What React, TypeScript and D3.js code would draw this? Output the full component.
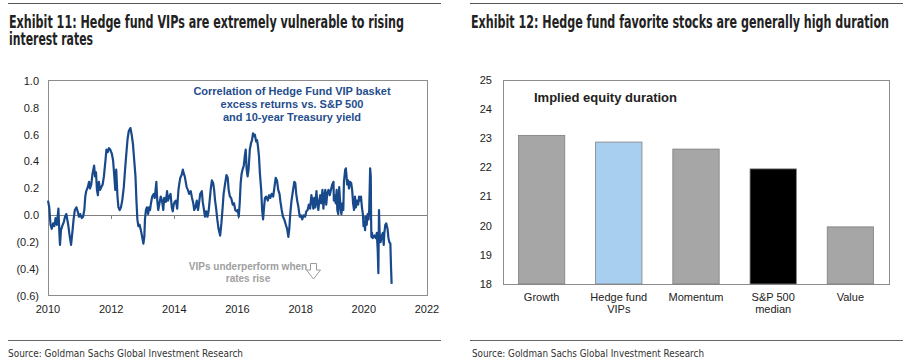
import React from 'react'
import { scaleLinear, scaleBand, line } from 'd3'

const W = 912
const H = 363

// Exhibit 11: correlation series [decimal year, value]
const corrSeries: [number, number][] = [
  [2010.00, 0.11], [2010.04, 0.06], [2010.08, -0.07], [2010.12, -0.10], [2010.16, -0.06], [2010.20, -0.08],
  [2010.24, -0.02], [2010.28, -0.07], [2010.33, 0.05], [2010.36, -0.13], [2010.38, -0.22], [2010.41, -0.11],
  [2010.45, -0.08], [2010.50, -0.05], [2010.54, -0.01], [2010.58, 0.01], [2010.61, -0.03], [2010.64, -0.07],
  [2010.69, -0.16], [2010.73, -0.22], [2010.77, -0.13], [2010.81, -0.03], [2010.85, 0.04], [2010.90, 0.06],
  [2010.94, 0.03], [2010.98, -0.01], [2011.02, 0.01], [2011.07, -0.02], [2011.11, -0.01], [2011.15, 0.04],
  [2011.18, 0.14], [2011.21, 0.18], [2011.26, 0.21], [2011.30, 0.25], [2011.33, 0.20], [2011.37, 0.23],
  [2011.41, 0.31], [2011.46, 0.37], [2011.49, 0.29], [2011.52, 0.32], [2011.55, 0.19], [2011.58, 0.15],
  [2011.61, 0.25], [2011.65, 0.19], [2011.69, 0.21], [2011.73, 0.23], [2011.77, 0.29], [2011.82, 0.41],
  [2011.85, 0.49], [2011.89, 0.47], [2011.93, 0.50], [2011.97, 0.49], [2012.02, 0.46], [2012.06, 0.41],
  [2012.10, 0.29], [2012.13, 0.19], [2012.16, 0.34], [2012.20, 0.14], [2012.23, 0.06], [2012.27, 0.04],
  [2012.31, 0.06], [2012.35, 0.11], [2012.40, 0.21], [2012.44, 0.34], [2012.48, 0.46], [2012.52, 0.57],
  [2012.56, 0.63], [2012.61, 0.65], [2012.65, 0.60], [2012.69, 0.53], [2012.73, 0.41], [2012.77, 0.29],
  [2012.80, 0.11], [2012.83, -0.03], [2012.86, -0.08], [2012.90, -0.07], [2012.94, -0.11], [2012.99, -0.17],
  [2013.02, -0.21], [2013.05, -0.16], [2013.07, -0.03], [2013.10, 0.04], [2013.13, 0.06], [2013.17, 0.01],
  [2013.20, 0.06], [2013.23, 0.04], [2013.26, 0.09], [2013.30, 0.14], [2013.35, 0.16], [2013.38, 0.13],
  [2013.41, 0.20], [2013.43, 0.25], [2013.46, 0.11], [2013.49, 0.04], [2013.53, 0.09], [2013.57, 0.14],
  [2013.61, 0.11], [2013.65, 0.04], [2013.68, 0.13], [2013.73, 0.10], [2013.77, 0.18], [2013.80, 0.11],
  [2013.84, 0.14], [2013.88, 0.16], [2013.92, 0.06], [2013.95, 0.03], [2013.98, 0.08], [2014.01, 0.10],
  [2014.05, 0.11], [2014.09, 0.05], [2014.13, 0.19], [2014.16, 0.24], [2014.19, 0.28], [2014.23, 0.30],
  [2014.27, 0.34], [2014.30, 0.31], [2014.33, 0.29], [2014.36, 0.25], [2014.39, 0.21], [2014.43, 0.19],
  [2014.47, 0.16], [2014.52, 0.18], [2014.56, 0.13], [2014.60, 0.09], [2014.63, 0.04], [2014.67, 0.06],
  [2014.71, 0.11], [2014.75, 0.04], [2014.78, 0.09], [2014.82, 0.16], [2014.87, 0.18], [2014.90, 0.10],
  [2014.94, 0.04], [2014.97, -0.01], [2015.01, 0.03], [2015.05, -0.01], [2015.09, 0.04], [2015.13, 0.14],
  [2015.16, 0.21], [2015.19, 0.26], [2015.23, 0.24], [2015.26, 0.19], [2015.29, 0.11], [2015.32, 0.06],
  [2015.36, -0.03], [2015.40, -0.10], [2015.45, -0.15], [2015.49, -0.06], [2015.53, 0.06], [2015.56, 0.16],
  [2015.61, 0.24], [2015.65, 0.30], [2015.69, 0.28], [2015.72, 0.19], [2015.76, 0.14], [2015.80, 0.13],
  [2015.85, 0.08], [2015.89, 0.09], [2015.93, 0.04], [2015.97, 0.03], [2016.01, 0.04], [2016.04, -0.01],
  [2016.07, 0.09], [2016.10, 0.24], [2016.13, 0.31], [2016.16, 0.34], [2016.20, 0.37], [2016.23, 0.44],
  [2016.26, 0.49], [2016.29, 0.34], [2016.32, 0.29], [2016.35, 0.34], [2016.39, 0.49], [2016.43, 0.54],
  [2016.46, 0.56], [2016.49, 0.61], [2016.52, 0.59], [2016.55, 0.60], [2016.59, 0.55], [2016.62, 0.56],
  [2016.65, 0.51], [2016.68, 0.44], [2016.71, 0.31], [2016.75, 0.19], [2016.78, 0.04], [2016.81, -0.03],
  [2016.84, 0.06], [2016.87, 0.13], [2016.91, 0.14], [2016.96, 0.11], [2017.00, 0.15], [2017.04, 0.13],
  [2017.08, 0.16], [2017.13, 0.14], [2017.17, 0.21], [2017.21, 0.28], [2017.25, 0.26], [2017.29, 0.19],
  [2017.33, 0.16], [2017.36, 0.10], [2017.40, 0.04], [2017.44, -0.01], [2017.48, -0.03], [2017.53, -0.07],
  [2017.57, -0.10], [2017.61, -0.16], [2017.64, -0.10], [2017.67, 0.01], [2017.71, 0.11], [2017.76, 0.19],
  [2017.80, 0.25], [2017.83, 0.24], [2017.86, 0.16], [2017.89, 0.11], [2017.93, 0.06], [2017.97, -0.01],
  [2018.01, 0.00], [2018.05, -0.03], [2018.09, 0.00], [2018.14, -0.01], [2018.18, 0.03], [2018.22, 0.04],
  [2018.26, 0.08], [2018.30, 0.05], [2018.34, 0.15], [2018.37, 0.11], [2018.40, 0.05], [2018.43, 0.13],
  [2018.46, 0.06], [2018.50, 0.18], [2018.53, 0.09], [2018.56, 0.04], [2018.59, 0.11], [2018.62, 0.15],
  [2018.65, 0.09], [2018.69, 0.19], [2018.72, 0.05], [2018.75, 0.14], [2018.78, 0.19], [2018.81, 0.08],
  [2018.84, 0.16], [2018.88, 0.19], [2018.92, 0.15], [2018.96, 0.19], [2019.00, 0.23], [2019.04, 0.25],
  [2019.05, 0.11], [2019.08, 0.15], [2019.11, 0.09], [2019.14, 0.19], [2019.16, 0.04], [2019.19, 0.01],
  [2019.22, 0.21], [2019.26, 0.06], [2019.29, 0.01], [2019.32, 0.09], [2019.35, 0.04], [2019.37, 0.25],
  [2019.41, 0.34], [2019.43, 0.35], [2019.45, 0.30], [2019.47, 0.23], [2019.50, 0.26], [2019.53, 0.20],
  [2019.56, 0.25], [2019.60, 0.24], [2019.63, 0.19], [2019.66, 0.09], [2019.69, 0.04], [2019.72, 0.14],
  [2019.75, 0.06], [2019.78, 0.11], [2019.82, 0.08], [2019.85, 0.14], [2019.88, 0.11], [2019.91, 0.14],
  [2019.94, 0.06], [2019.97, 0.01], [2019.99, -0.08], [2020.02, -0.05], [2020.04, -0.11], [2020.06, -0.01],
  [2020.09, -0.07], [2020.12, 0.01], [2020.15, -0.03], [2020.17, 0.04], [2020.20, 0.35], [2020.22, 0.29],
  [2020.23, -0.03], [2020.24, -0.16], [2020.26, -0.13], [2020.28, -0.17], [2020.31, -0.16], [2020.34, -0.15],
  [2020.38, -0.17], [2020.41, -0.13], [2020.44, -0.26], [2020.46, -0.43], [2020.48, 0.04], [2020.50, -0.13],
  [2020.53, -0.20], [2020.56, -0.16], [2020.60, -0.13], [2020.63, -0.22], [2020.65, -0.13], [2020.68, -0.07],
  [2020.71, -0.06], [2020.75, -0.10], [2020.78, -0.17], [2020.81, -0.20], [2020.84, -0.21], [2020.86, -0.38],
  [2020.88, -0.51],
]
const corrYTicks = [1.0, 0.8, 0.6, 0.4, 0.2, 0.0, -0.2, -0.4, -0.6]
const corrXTicks = [2010, 2012, 2014, 2016, 2018, 2020, 2022]

// Exhibit 12: implied equity duration
const durCategories = ['Growth', 'Hedge fund VIPs', 'Momentum', 'S&P 500 median', 'Value']
const durLabels = [['Growth'], ['Hedge fund', 'VIPs'], ['Momentum'], ['S&P 500', 'median'], ['Value']]
const durValues = [23.1, 22.87, 22.63, 21.95, 19.96]
const durColors = ['#a6a6a6', '#a9cff0', '#a6a6a6', '#000000', '#a6a6a6']
const durYTicks = [18, 19, 20, 21, 22, 23, 24, 25]

const sans = 'Arial, "Liberation Sans", Helvetica, sans-serif'
const narrow = '"Liberation Sans Narrow", "Arial Narrow", "DejaVu Sans Condensed", sans-serif'

const fmtCorr = (d: number) => (d < 0 ? `(${Math.abs(d).toFixed(1)})` : d.toFixed(1))

// condensed bold heading squeezed horizontally to the width seen in the reference
const SQ = 0.75
function Heading({ x, y, w, children }: { x: number; y: number; w: number; children: string }) {
  return (
    <text transform={`translate(${x},${y}) scale(${SQ},1)`} x={0} y={0}
      textLength={w / SQ} lengthAdjust="spacingAndGlyphs"
      fontFamily={narrow} fontWeight="bold" fontSize={17.5} fill="#222">{children}</text>
  )
}

export default function App() {
  // left panel
  const x1 = scaleLinear().domain([2010, 2022]).range([48, 427])
  const y1 = scaleLinear().domain([-0.6, 1.0]).range([296, 81])
  const corrLine = line<[number, number]>()
    .x(d => x1(d[0]))
    .y(d => y1(d[1]))
  const zeroY = Math.round(y1(0)) + 0.5

  // right panel
  const x2 = scaleBand().domain(durCategories).range([503, 889]).paddingInner(0.4).paddingOuter(0.2)
  const y2 = scaleLinear().domain([18, 25]).range([284, 80])

  return (
    <svg width={W} height={H} style={{ position: 'absolute', left: 0, top: 0, background: '#fff' }}>
      {/* rules */}
      <line x1={8} x2={441} y1={3.5} y2={3.5} stroke="#555" />
      <line x1={470} x2={903} y1={3.5} y2={3.5} stroke="#555" />
      <line x1={8} x2={441} y1={340.5} y2={340.5} stroke="#666" />
      <line x1={470} x2={903} y1={340.5} y2={340.5} stroke="#666" />

      {/* titles */}
      <Heading x={9} y={28} w={395}>Exhibit 11: Hedge fund VIPs are extremely vulnerable to rising</Heading>
      <Heading x={9} y={45} w={84}>interest rates</Heading>
      <Heading x={471} y={28} w={418}>Exhibit 12: Hedge fund favorite stocks are generally high duration</Heading>

      {/* sources */}
      <g fontFamily={narrow} fontSize={10.5} fill="#333">
        <text x={8} y={357} textLength={235} lengthAdjust="spacingAndGlyphs">Source: Goldman Sachs Global Investment Research</text>
        <text x={472} y={357} textLength={232} lengthAdjust="spacingAndGlyphs">Source: Goldman Sachs Global Investment Research</text>
      </g>

      {/* ===== Exhibit 11 ===== */}
      <rect x={48.5} y={80.5} width={379} height={215} fill="none" stroke="#8c8c8c" />
      <line x1={48} x2={427} y1={zeroY} y2={zeroY} stroke="#808080" />
      {corrXTicks.slice(1, -1).map(t => (
        <line key={t} x1={Math.round(x1(t)) + 0.5} x2={Math.round(x1(t)) + 0.5}
          y1={zeroY} y2={zeroY + 3.5} stroke="#808080" />
      ))}
      <g fontFamily={sans} fontSize={11} fill="#222">
        {corrYTicks.map(t => (
          <text key={t} x={39} y={y1(t)} dy="0.35em" textAnchor="end">{fmtCorr(t)}</text>
        ))}
        {corrXTicks.map(t => (
          <text key={t} x={x1(t)} y={313} textAnchor="middle">{t}</text>
        ))}
      </g>
      <path d={corrLine(corrSeries) ?? ''} fill="none" stroke="#18498a" strokeWidth={2.2} strokeLinejoin="round" />

      <g fontFamily={sans} fontSize={11} fontWeight="bold" fill="#1f4e8c" textAnchor="middle">
        <text x={292} y={95}>Correlation of Hedge Fund VIP basket</text>
        <text x={292} y={108}>excess returns vs. S&amp;P 500</text>
        <text x={292} y={121}>and 10-year Treasury yield</text>
      </g>
      <g fontFamily={sans} fontSize={10} fontWeight="bold" fill="#a0a0a0" textAnchor="middle">
        <text x={248} y={270}>VIPs underperform when</text>
        <text x={248} y={282}>rates rise</text>
      </g>
      <path d="M310.5,263.5 H316.5 V270 H320.5 L313.5,279 L306.5,270 H310.5 Z" fill="#fff" stroke="#9a9a9a" />

      {/* ===== Exhibit 12 ===== */}
      <rect x={503.5} y={80.5} width={386} height={204} fill="none" stroke="#8c8c8c" />
      {durCategories.map((c, i) => (
        <rect key={c} x={x2(c)} y={y2(durValues[i])} width={x2.bandwidth()}
          height={y2(18) - y2(durValues[i])} fill={durColors[i]} stroke="#7f7f7f" strokeWidth={0.8} />
      ))}
      <g fontFamily={sans} fontSize={11} fill="#222">
        {durYTicks.map(t => (
          <text key={t} x={492} y={y2(t)} dy="0.35em" textAnchor="end">{t}</text>
        ))}
        {durCategories.map((c, i) => (
          <text key={c} x={(x2(c) ?? 0) + x2.bandwidth() / 2} y={301} textAnchor="middle">
            {durLabels[i].map((l, j) => (
              <tspan key={j} x={(x2(c) ?? 0) + x2.bandwidth() / 2} dy={j === 0 ? 0 : 11.5}>{l}</tspan>
            ))}
          </text>
        ))}
      </g>
      <text x={534} y={102} fontFamily={sans} fontSize={13} fontWeight="bold" fill="#222">Implied equity duration</text>
    </svg>
  )
}
